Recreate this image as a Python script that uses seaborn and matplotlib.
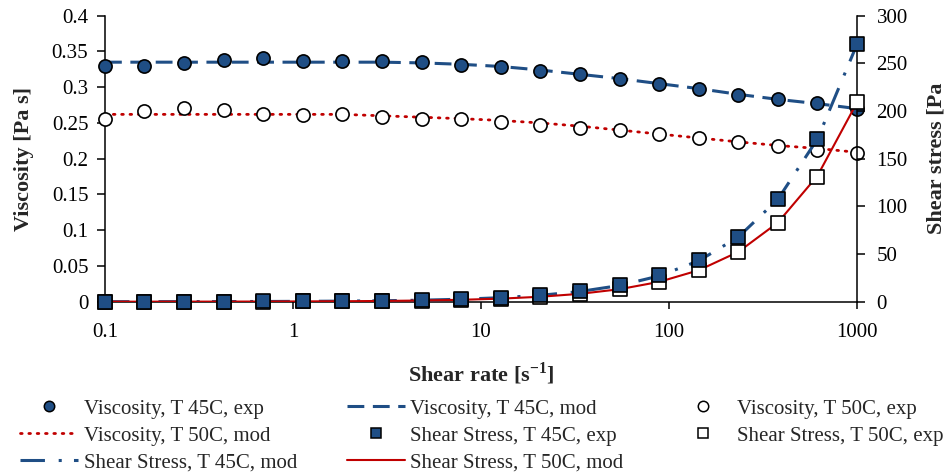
import matplotlib
matplotlib.use("Agg")
import matplotlib.pyplot as plt
import seaborn as sns
import pandas as pd
from matplotlib.lines import Line2D

# Shear rate sweep [1/s]
shear_rate = [0.1, 0.162, 0.264, 0.428, 0.695, 1.13, 1.83, 2.98, 4.83, 7.85,
              12.7, 20.7, 33.6, 54.6, 88.6, 144, 234, 379, 616, 1000]

# Viscosity [Pa s]
visc_45_exp = [0.330, 0.330, 0.334, 0.338, 0.341, 0.336, 0.336, 0.336, 0.335, 0.331,
               0.328, 0.323, 0.318, 0.312, 0.305, 0.297, 0.289, 0.284, 0.278, 0.270]
visc_45_mod = [0.335, 0.335, 0.335, 0.335, 0.335, 0.335, 0.335, 0.335, 0.334, 0.332,
               0.329, 0.324, 0.318, 0.312, 0.305, 0.298, 0.290, 0.283, 0.277, 0.270]
visc_50_exp = [0.255, 0.267, 0.271, 0.268, 0.263, 0.261, 0.262, 0.258, 0.256, 0.255,
               0.251, 0.247, 0.243, 0.240, 0.2345, 0.2285, 0.223, 0.218, 0.2126, 0.2075]
visc_50_mod = [0.262, 0.262, 0.262, 0.262, 0.262, 0.262, 0.262, 0.260, 0.258, 0.256,
               0.2535, 0.250, 0.2455, 0.240, 0.2345, 0.229, 0.2235, 0.2185, 0.2143, 0.209]

# Shear stress [Pa]
stress_45_exp = [0.03, 0.05, 0.09, 0.14, 0.24, 0.38, 0.61, 1.0, 1.6, 2.6,
                 4.2, 6.7, 10.7, 17.0, 27.5, 43.5, 68.0, 107.5, 171, 270]
stress_45_mod = [0.03, 0.05, 0.09, 0.14, 0.23, 0.38, 0.61, 1.0, 1.6, 2.6,
                 4.2, 6.7, 10.7, 17.0, 27.0, 42.9, 67.9, 107.3, 170.6, 270]
stress_50_exp = [0.03, 0.04, 0.07, 0.11, 0.18, 0.29, 0.48, 0.77, 1.24, 2.0,
                 3.2, 5.1, 8.2, 13.2, 21.0, 32.8, 52.4, 83.0, 131, 209]
stress_50_mod = [0.03, 0.04, 0.07, 0.11, 0.18, 0.30, 0.48, 0.78, 1.25, 2.0,
                 3.2, 5.2, 8.25, 13.1, 20.8, 33.0, 52.3, 82.9, 132, 209]

x_ticks = [0.1, 1, 10, 100, 1000]
x_tick_labels = ["0.1", "1", "10", "100", "1000"]
visc_ticks = [0, 0.05, 0.1, 0.15, 0.2, 0.25, 0.3, 0.35, 0.4]
visc_tick_labels = ["0", "0.05", "0.1", "0.15", "0.2", "0.25", "0.3", "0.35", "0.4"]
stress_ticks = [0, 50, 100, 150, 200, 250, 300]

legend_labels = ["Viscosity, T 45C, exp", "Viscosity, T 45C, mod", "Viscosity, T 50C, exp",
                 "Viscosity, T 50C, mod", "Shear Stress, T 45C, exp", "Shear Stress, T 50C, exp",
                 "Shear Stress, T 45C, mod", "Shear Stress, T 50C, mod"]

df = pd.DataFrame({
    "rate": shear_rate,
    "v45e": visc_45_exp, "v45m": visc_45_mod,
    "v50e": visc_50_exp, "v50m": visc_50_mod,
    "s45e": stress_45_exp, "s45m": stress_45_mod,
    "s50e": stress_50_exp, "s50m": stress_50_mod,
})

sns.set_style("ticks")
plt.rcParams["font.family"] = ["Liberation Serif", "DejaVu Serif"]
plt.rcParams["mathtext.fontset"] = "custom"
plt.rcParams["mathtext.rm"] = "Liberation Serif"
plt.rcParams["mathtext.bf"] = "Liberation Serif:bold"

BLUE = "#1F4E85"
RED = "#C00000"

DASHED = (0, (5.5, 2.8))
DOTTED = (0, (0.6, 2.4))
DASHDOT = (0, (8.0, 4.5, 1.0, 4.0))

fig = plt.figure(figsize=(9.48, 4.73), dpi=100)
ax = fig.add_axes([105 / 948, 1 - 301.7 / 473, 752 / 948, 286 / 473])
ax2 = ax.twinx()
ax.set_xscale("log")

# viscosity (left axis)
sns.lineplot(data=df, x="rate", y="v45m", ax=ax, color=BLUE, linewidth=2.2,
             linestyle=DASHED, errorbar=None, zorder=2)
sns.lineplot(data=df, x="rate", y="v50m", ax=ax, color=RED, linewidth=2.0,
             linestyle=DOTTED, dash_capstyle="round", errorbar=None, zorder=2)
sns.scatterplot(data=df, x="rate", y="v45e", ax=ax, marker="o", s=90, color=BLUE,
                edgecolor="black", linewidth=1.2, zorder=3, clip_on=False)
sns.scatterplot(data=df, x="rate", y="v50e", ax=ax, marker="o", s=90, color="white",
                edgecolor="black", linewidth=1.2, zorder=3, clip_on=False)

# shear stress (right axis)
sns.lineplot(data=df, x="rate", y="s45m", ax=ax2, color=BLUE, linewidth=2.2,
             linestyle=DASHDOT, errorbar=None, zorder=2)
sns.lineplot(data=df, x="rate", y="s50m", ax=ax2, color=RED, linewidth=1.5,
             errorbar=None, zorder=2)
sns.scatterplot(data=df, x="rate", y="s50e", ax=ax2, marker="s", s=95, color="white",
                edgecolor="black", linewidth=1.2, zorder=3, clip_on=False)
sns.scatterplot(data=df, x="rate", y="s45e", ax=ax2, marker="s", s=95, color=BLUE,
                edgecolor="black", linewidth=1.2, zorder=4, clip_on=False)

ax.set_xlim(0.1, 1000)
ax.set_ylim(0, 0.4)
ax2.set_ylim(0, 300)
ax.set_xticks(x_ticks)
ax.set_xticklabels(x_tick_labels)
ax.xaxis.set_minor_locator(matplotlib.ticker.NullLocator())
ax.set_yticks(visc_ticks)
ax.set_yticklabels(visc_tick_labels)
ax2.set_yticks(stress_ticks)

for a in (ax, ax2):
    a.spines["top"].set_visible(False)
    for sp in a.spines.values():
        sp.set_linewidth(1.1)
        sp.set_color("black")
ax.spines["right"].set_visible(False)
ax2.spines["left"].set_visible(False)
ax2.spines["bottom"].set_visible(False)

ax.tick_params(axis="y", direction="out", length=6, width=1.1, pad=6, labelsize=15, colors="black")
ax.tick_params(axis="x", direction="out", length=5, width=1.1, pad=10, labelsize=15, colors="black")
ax2.tick_params(axis="y", direction="out", length=6, width=1.1, pad=8, labelsize=15, colors="black")

ax.set_xlabel(r"Shear rate [s$^{\mathbf{-1}}$]", fontsize=16, fontweight="bold")
ax.xaxis.set_label_coords(0.5, (301.7 - 360) / 286)
ax.set_ylabel("Viscosity [Pa s]", fontsize=16, fontweight="bold")
ax.yaxis.set_label_coords((34 - 105) / 752, 0.5)
ax2.set_ylabel("Shear stress [Pa", fontsize=16, fontweight="bold")
ax2.yaxis.set_label_coords((926 - 105) / 752, 0.5)

h_v45e = Line2D([], [], marker="o", ls="none", ms=7.5, mfc=BLUE, mec="black", mew=1.1)
h_v45m = Line2D([], [], color=BLUE, lw=2.2, ls=DASHED)
h_v50e = Line2D([], [], marker="o", ls="none", ms=7.5, mfc="white", mec="black", mew=1.1)
h_v50m = Line2D([], [], color=RED, lw=2.0, ls=DOTTED, dash_capstyle="round")
h_s45e = Line2D([], [], marker="s", ls="none", ms=7.5, mfc=BLUE, mec="black", mew=1.1)
h_s50e = Line2D([], [], marker="s", ls="none", ms=7.5, mfc="white", mec="black", mew=1.1)
h_s45m = Line2D([], [], color=BLUE, lw=2.2, ls=DASHDOT)
h_s50m = Line2D([], [], color=RED, lw=1.5)
handles = [h_v45e, h_v45m, h_v50e, h_v50m, h_s45e, h_s50e, h_s45m, h_s50m]

# the legend fills column by column; reorder so it reads row by row
order = [0, 3, 6, 1, 4, 7, 2, 5]
fig.legend([handles[i] for i in order], [legend_labels[i] for i in order],
           ncol=3, loc="upper left", bbox_to_anchor=(20 / 948, 1 - 399 / 473),
           frameon=False, fontsize=15, handlelength=2.8, handletextpad=0.25,
           columnspacing=2.4, labelspacing=0.36, borderpad=0, borderaxespad=0)

fig.savefig("out.png", dpi=100)
